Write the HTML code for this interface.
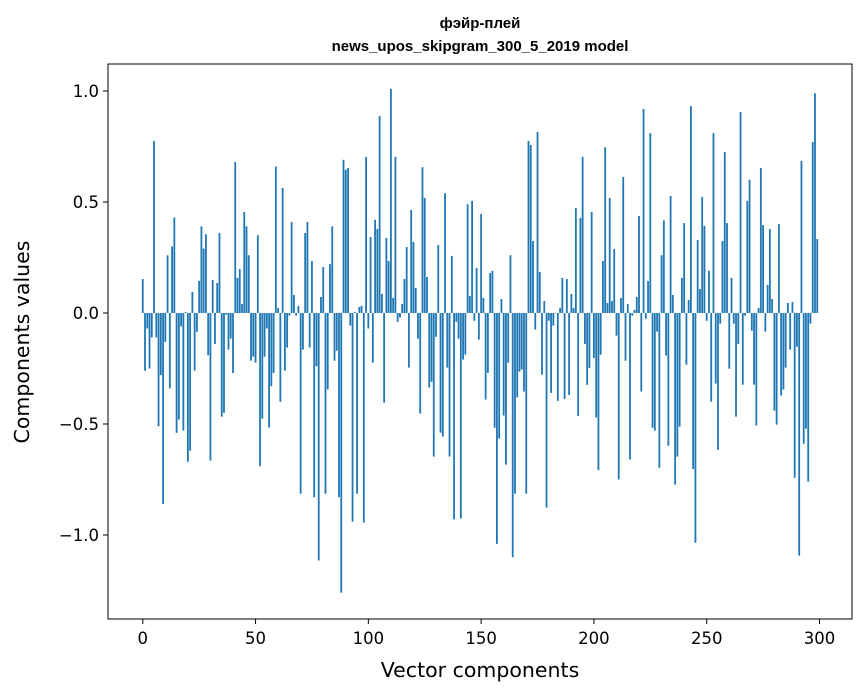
<!DOCTYPE html>
<html><head><meta charset="utf-8"><style>
body{margin:0;background:#fff;}
svg{display:block;font-family:"Liberation Sans","DejaVu Sans",sans-serif;}
.dv{font-family:"DejaVu Sans","Liberation Sans",sans-serif;}
</style></head><body>
<svg id="chart" width="867" height="696" xmlns="http://www.w3.org/2000/svg">
<rect width="867" height="696" fill="#fff"/>
<text x="480" y="28" text-anchor="middle" font-size="15" font-weight="bold">фэйр-плей</text>
<text x="480" y="51" text-anchor="middle" font-size="15" font-weight="bold">news_upos_skipgram_300_5_2019 model</text>
<g id="bars"></g>
<g id="xticks" class="dv"></g>
<g id="yticks" class="dv"></g>
<rect x="108" y="64" width="744" height="555" fill="none" stroke="#000" stroke-width="1"/>
<text class="dv" x="480" y="677" text-anchor="middle" font-size="20.5">Vector components</text>
<text class="dv" transform="translate(29,342) rotate(-90)" text-anchor="middle" font-size="20.5">Components values</text>
</svg>
<script>
const values = [
0.153,-0.26,-0.07,-0.25,-0.11,0.775,-0.11,-0.51,-0.28,-0.86,
-0.13,0.26,-0.34,0.30,0.43,-0.54,-0.48,-0.06,-0.53,0.005,
-0.67,-0.62,0.095,-0.26,-0.085,0.145,0.39,0.29,0.355,-0.19,
-0.665,0.149,-0.14,0.135,0.36,-0.467,-0.45,-0.008,-0.165,-0.115,
-0.27,0.68,0.158,0.198,0.04,0.455,0.39,0.26,-0.215,-0.197,
-0.224,0.35,-0.69,-0.476,-0.197,-0.07,-0.516,-0.33,-0.27,0.66,
0.022,-0.40,0.563,-0.26,-0.156,-0.012,0.41,0.081,-0.012,0.032,
-0.814,-0.165,0.36,0.41,-0.156,0.234,-0.83,-0.24,-1.115,0.072,
0.207,-0.814,-0.345,0.22,0.39,-0.215,-0.17,-0.83,-1.26,0.69,
0.645,0.653,-0.057,-0.94,0.005,-0.814,0.027,0.032,-0.944,0.703,
-0.07,0.342,-0.224,0.42,0.378,0.887,0.086,-0.404,0.338,0.234,
1.01,0.068,0.703,-0.04,-0.02,0.04,0.153,0.297,-0.246,0.464,
0.32,0.113,-0.116,-0.453,0.657,0.518,0.162,-0.336,-0.31,-0.647,
-0.107,0.306,-0.539,-0.557,0.54,-0.246,-0.647,0.257,-0.93,-0.04,
-0.116,-0.926,-0.21,-0.188,0.49,0.077,0.505,-0.035,0.203,-0.12,
0.446,0.068,-0.39,-0.27,0.18,0.19,-0.517,-1.04,-0.566,0.063,
-0.462,-0.683,-0.224,0.26,-1.10,-0.814,-0.38,-0.264,-0.255,-0.354,
-0.814,0.775,0.757,0.324,-0.075,0.815,0.185,-0.278,0.054,-0.877,
-0.035,-0.36,-0.057,0.0,-0.396,0.023,0.158,-0.387,0.153,-0.369,
0.086,0.023,0.473,-0.464,0.428,0.703,-0.14,-0.324,-0.248,0.455,
-0.203,-0.471,-0.708,-0.188,0.234,0.747,0.045,0.518,0.054,0.288,
-0.102,-0.75,0.068,0.613,-0.215,0.04,-0.66,-0.012,0.014,0.072,
0.437,-0.354,0.919,-0.026,0.144,0.81,-0.517,-0.53,-0.084,-0.697,
0.26,0.417,-0.192,-0.598,0.527,0.081,-0.773,-0.647,-0.512,0.158,
0.405,-0.233,0.059,0.932,-0.703,-1.035,0.329,0.108,0.523,0.392,
-0.035,0.19,-0.40,0.81,-0.318,-0.616,-0.048,0.324,0.725,0.405,
-0.251,0.158,-0.048,-0.467,-0.14,0.905,-0.323,-0.012,0.505,0.6,
-0.08,-0.323,-0.507,0.023,0.653,0.396,-0.084,0.126,0.378,0.063,
-0.44,-0.503,0.4,-0.372,-0.345,-0.246,0.045,-0.165,0.05,-0.742,
-0.152,-1.093,0.685,-0.589,-0.521,-0.76,-0.048,0.77,0.99,0.333
];
const xTickValues = [0,50,100,150,200,250,300];
const yTickValues = [-1.0,-0.5,0.0,0.5,1.0];
const yTickLabels = ["\u22121.0","\u22120.5","0.0","0.5","1.0"];

const NS = "http://www.w3.org/2000/svg";
const X0 = 108, X1 = 852, Y0 = 64, Y1 = 619;
const xmin = -15.41, xmax = 314.41;
const ymin = -1.3785, ymax = 1.1216;
function xs(v){ return X0 + (v - xmin) / (xmax - xmin) * (X1 - X0); }
function ys(v){ return Y1 - (v - ymin) / (ymax - ymin) * (Y1 - Y0); }

const bars = document.getElementById('bars');
values.forEach((v, i) => {
  const r = document.createElementNS(NS, 'rect');
  const xl = xs(i - 0.4), xr = xs(i + 0.4);
  const yt = ys(Math.max(v, 0)), yb = ys(Math.min(v, 0));
  r.setAttribute('x', xl);
  r.setAttribute('width', xr - xl);
  r.setAttribute('y', yt);
  r.setAttribute('height', Math.max(yb - yt, 0.3));
  r.setAttribute('fill', '#1f77b4');
  
  
  bars.appendChild(r);
});

const xt = document.getElementById('xticks');
xTickValues.forEach(v => {
  const x = xs(v);
  const l = document.createElementNS(NS, 'line');
  l.setAttribute('x1', x); l.setAttribute('x2', x);
  l.setAttribute('y1', Y1); l.setAttribute('y2', Y1 + 5);
  l.setAttribute('stroke', '#000');
  
  
  xt.appendChild(l);
  const t = document.createElementNS(NS, 'text');
  t.setAttribute('x', x); t.setAttribute('y', Y1 + 25);
  t.setAttribute('text-anchor', 'middle');
  t.setAttribute('font-size', '16.5');
  
  
  t.textContent = String(v);
  xt.appendChild(t);
});

const yt = document.getElementById('yticks');
yTickValues.forEach((v, k) => {
  const y = ys(v);
  const l = document.createElementNS(NS, 'line');
  l.setAttribute('x1', X0 - 5); l.setAttribute('x2', X0);
  l.setAttribute('y1', y); l.setAttribute('y2', y);
  l.setAttribute('stroke', '#000');
  
  
  yt.appendChild(l);
  const t = document.createElementNS(NS, 'text');
  t.setAttribute('x', X0 - 9); t.setAttribute('y', y + 6);
  t.setAttribute('text-anchor', 'end');
  t.setAttribute('font-size', '16.5');
  
  
  t.textContent = yTickLabels[k];
  yt.appendChild(t);
});
</script>
</body></html>
